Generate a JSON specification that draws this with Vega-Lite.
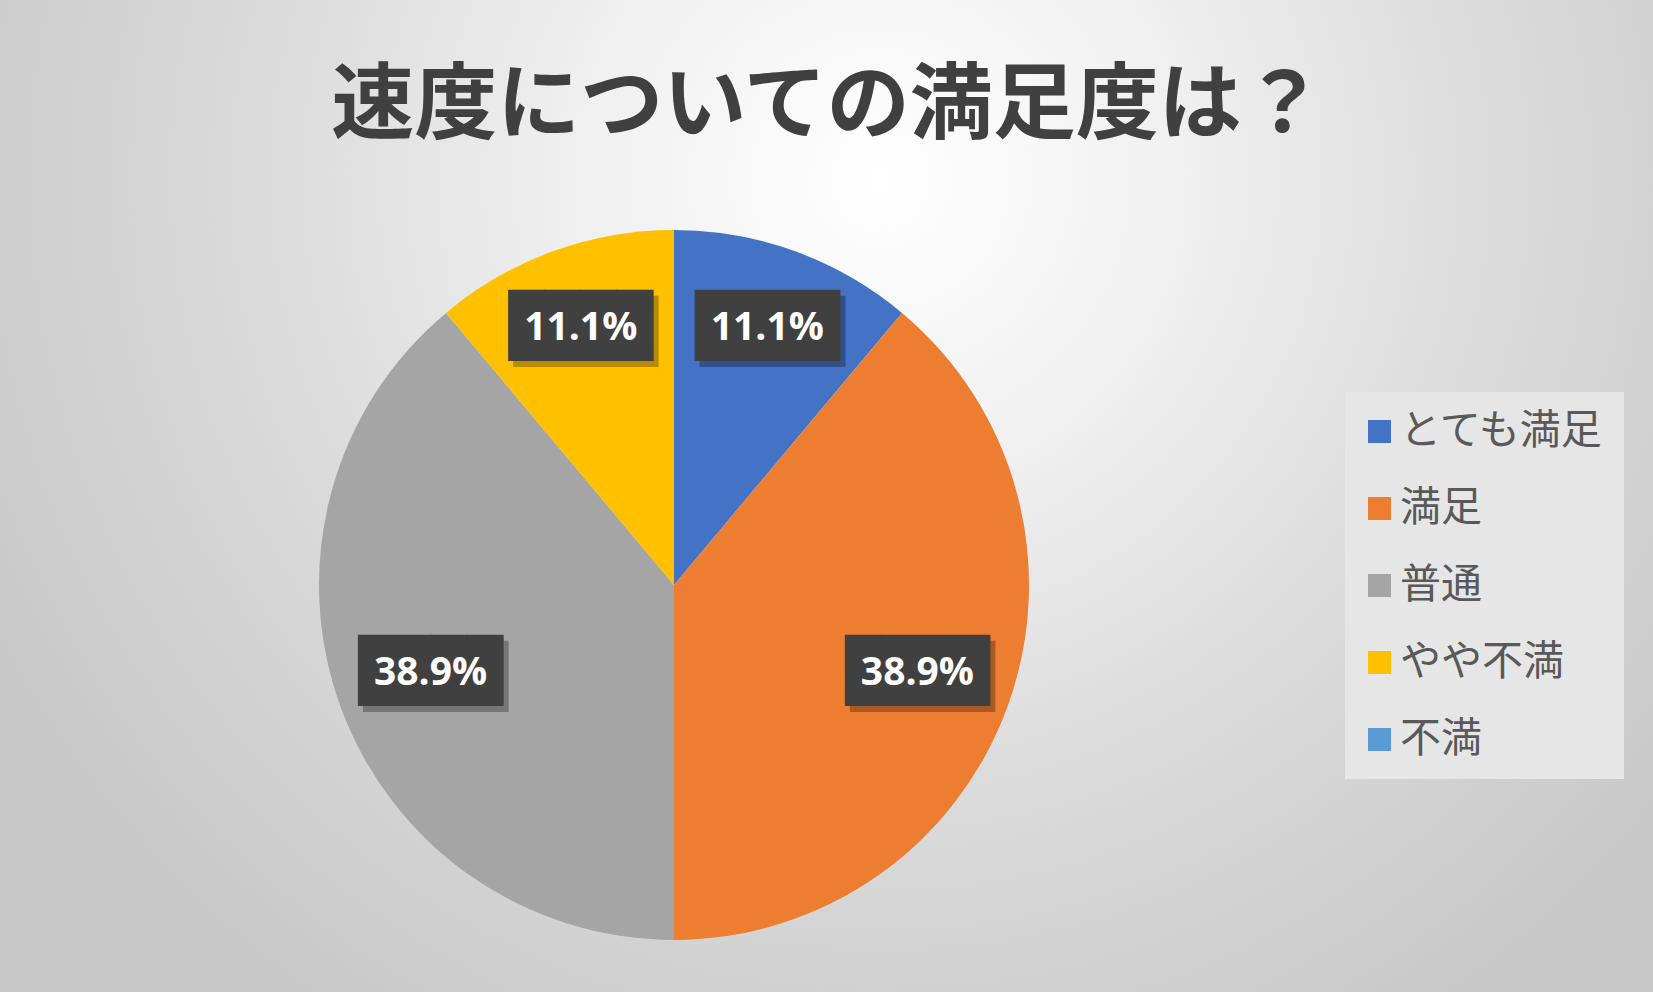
{
  "$schema": "https://vega.github.io/schema/vega-lite/v6.json",
  "autosize": {"type": "none"},
  "width": 710,
  "height": 710,
  "padding": {"left": 319, "top": 230, "right": 624, "bottom": 52},
  "background": "#d6d6d6",
  "title": {
    "text": "速度についての満足度は？",
    "font": "Noto Sans CJK JP",
    "fontSize": 83,
    "fontWeight": "bold",
    "color": "#404040",
    "anchor": "middle",
    "frame": "group",
    "dx": 154,
    "offset": -764
  },
  "data": {
    "values": [
      {"category": "とても満足", "share": 0.111, "rank": 1},
      {"category": "満足", "share": 0.389, "rank": 2},
      {"category": "普通", "share": 0.389, "rank": 3},
      {"category": "やや不満", "share": 0.111, "rank": 4},
      {"category": "不満", "share": 0, "rank": 5}
    ]
  },
  "layer": [
    {
      "data": {"values": [{}]},
      "mark": {
        "type": "arc",
        "theta": 0,
        "theta2": 6.2832,
        "outerRadius": 1200,
        "fill": {
          "gradient": "radial",
          "x1": 0.586, "y1": 0.331, "r1": 0,
          "x2": 0.586, "y2": 0.331, "r2": 0.4167,
          "stops": [
            {"offset": 0, "color": "#ffffff"},
            {"offset": 0.3, "color": "#f0f0f0"},
            {"offset": 0.6, "color": "#dcdcdc"},
            {"offset": 1, "color": "#c8c8c8"}
          ]
        }
      }
    },
    {
      "mark": {"type": "arc", "outerRadius": 355},
      "encoding": {
        "theta": {"field": "share", "type": "quantitative", "stack": true},
        "order": {"field": "rank", "type": "quantitative"},
        "color": {
          "field": "category",
          "type": "nominal",
          "sort": ["とても満足", "満足", "普通", "やや不満", "不満"],
          "scale": {
            "domain": ["とても満足", "満足", "普通", "やや不満", "不満"],
            "range": ["#4472C4", "#ED7D31", "#A5A5A5", "#FFC000", "#5B9BD5"]
          },
          "legend": {
            "title": null,
            "orient": "none",
            "legendX": 1026,
            "legendY": 162,
            "fillColor": "#e6e6e6",
            "padding": 19,
            "symbolType": "square",
            "symbolSize": 529,
            "symbolStrokeWidth": 0,
            "symbolOffset": -5,
            "labelFont": "Noto Sans CJK JP",
            "labelFontSize": 41,
            "labelColor": "#595959",
            "labelOffset": 0,
            "rowPadding": 35,
            "labelLimit": 400
          }
        }
      }
    },
    {
      "transform": [{"filter": "datum.share > 0"}],
      "mark": {
        "type": "text",
        "text": "████",
        "font": "DejaVu Sans Mono",
        "fontSize": 60,
        "color": "#000000",
        "opacity": 0.28,
        "dx": 5,
        "dy": 6
      },
      "encoding": {
        "theta": {"field": "share", "type": "quantitative", "stack": true},
        "order": {"field": "rank", "type": "quantitative"},
        "radius": {"field": "share", "type": "quantitative", "scale": {"domain": [0.111, 0.389], "range": [273, 259], "zero": false}}
      }
    },
    {
      "transform": [{"filter": "datum.share > 0"}],
      "mark": {
        "type": "text",
        "text": "████",
        "font": "DejaVu Sans Mono",
        "fontSize": 60,
        "color": "#404040"
      },
      "encoding": {
        "theta": {"field": "share", "type": "quantitative", "stack": true},
        "order": {"field": "rank", "type": "quantitative"},
        "radius": {"field": "share", "type": "quantitative"}
      }
    },
    {
      "transform": [{"filter": "datum.share > 0"}],
      "mark": {
        "type": "text",
        "font": "Open Sans",
        "fontSize": 39,
        "fontWeight": "bold",
        "color": "#ffffff"
      },
      "encoding": {
        "theta": {"field": "share", "type": "quantitative", "stack": true},
        "order": {"field": "rank", "type": "quantitative"},
        "radius": {"field": "share", "type": "quantitative"},
        "text": {"field": "share", "type": "quantitative", "format": ".1%"}
      }
    }
  ]
}
